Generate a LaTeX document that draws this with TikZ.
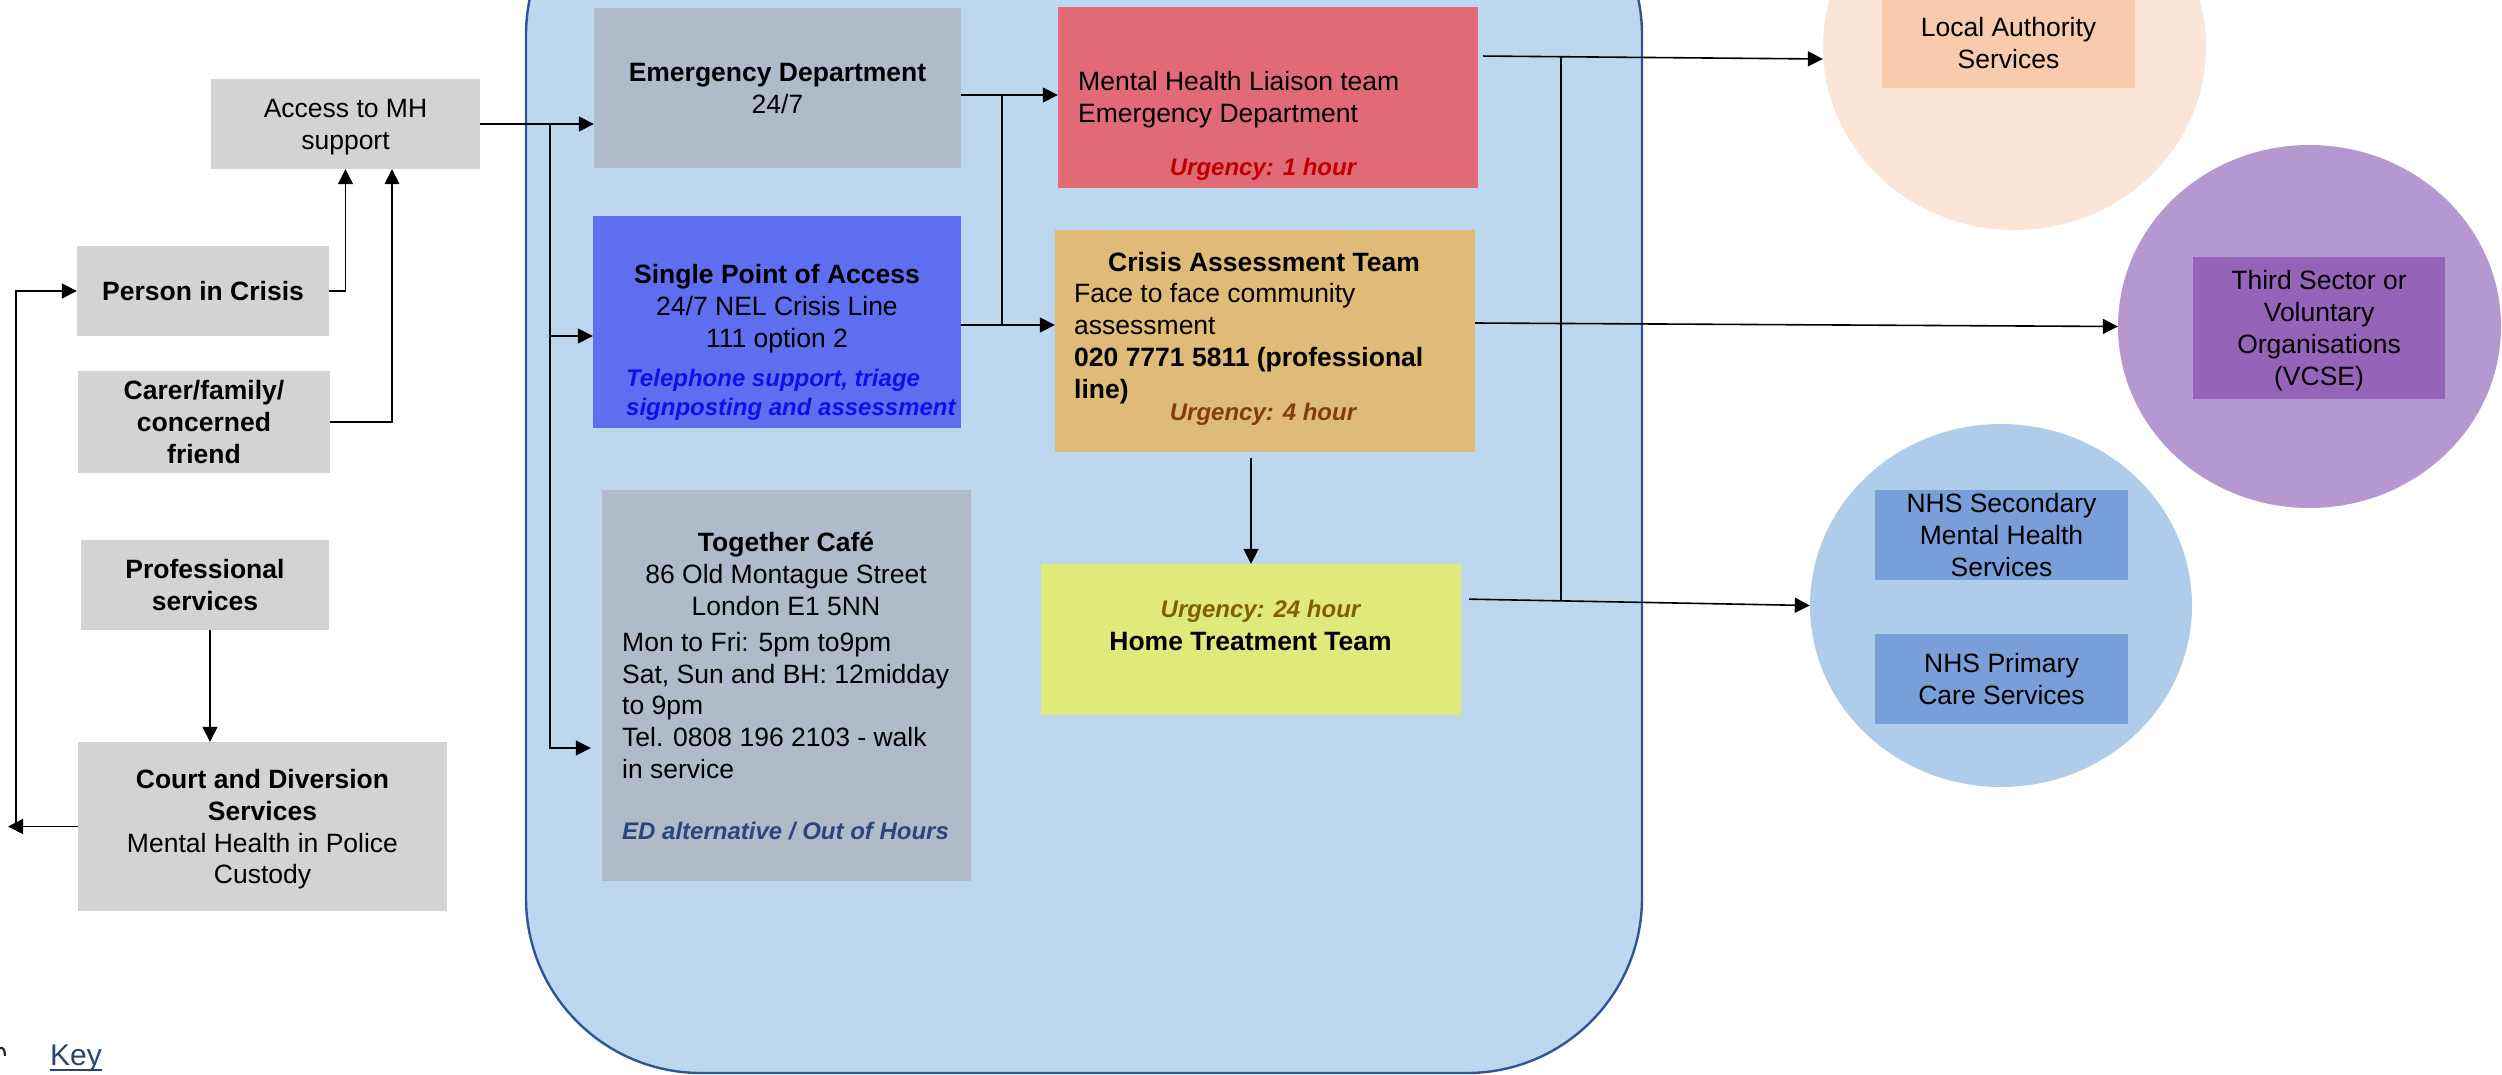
\documentclass[tikz,border=0pt]{standalone}
\usepackage{fontspec}
\setmainfont{Liberation Sans}
\usetikzlibrary{arrows.meta,shapes.geometric,calc}
\definecolor{contfill}{HTML}{BDD7EE}
\definecolor{contline}{HTML}{2F5597}
\definecolor{lgray}{HTML}{D3D3D3}
\definecolor{edgray}{HTML}{AFBACB}
\definecolor{spafill}{HTML}{5F6DF0}
\definecolor{spatext}{HTML}{1010E6}
\definecolor{mhltfill}{HTML}{E06B77}
\definecolor{urgred}{HTML}{C00000}
\definecolor{catfill}{HTML}{DFBB78}
\definecolor{urgbrown}{HTML}{843C0C}
\definecolor{httfill}{HTML}{DFEA7A}
\definecolor{urgolive}{HTML}{7F6000}
\definecolor{navytext}{HTML}{2A477A}
\definecolor{keyblue}{HTML}{2B4470}
\definecolor{lacirc}{HTML}{FBE5D6}
\definecolor{labox}{HTML}{F8CBAD}
\definecolor{vcsecirc}{HTML}{B598CF}
\definecolor{vcsebox}{HTML}{9563B7}
\definecolor{nhscirc}{HTML}{AFCDEA}
\definecolor{nhsbox}{HTML}{789FD8}
\newcommand\mainsz{\fontsize{26.5}{31.8}\selectfont}
\newcommand\smsz{\fontsize{24}{28.8}\selectfont}
\begin{document}
\begin{tikzpicture}[x=1pt,y=-1pt,
  conn/.style={line width=1.6pt, draw=black},
  arr/.style={conn, -{Triangle[length=15pt,width=15pt]}},
  box/.style 2 args={rectangle, inner sep=0pt, minimum width=#1pt, minimum height=#2pt, align=center, font=\mainsz, text depth=0pt},
  oval/.style 2 args={ellipse, inner sep=0pt, minimum width=#1pt, minimum height=#2pt},
  urg/.style={font=\smsz\bfseries\itshape, inner sep=0pt},
  txt/.style={font=\mainsz, inner sep=0pt}]
\useasboundingbox (0,0) rectangle (2502,1074);
\begin{scope}
\clip (0,0) rectangle (2502,1074);
% container
\draw[fill=contfill, draw=contline, line width=2.4pt, rounded corners=175pt] (526,-140) rectangle (1642,1073);
% outer ovals
\node[oval={383}{366}, fill=lacirc] (laC) at (2014.5,47) {};
\node[oval={383}{363}, fill=vcsecirc] (vcseC) at (2309.5,326.5) {};
\node[oval={382}{363}, fill=nhscirc] (nhsC) at (2001,605.5) {};
% boxes in ovals
\node[box={253}{90}, fill=labox] (la) at (2008.5,43) {Local Authority\\Services};
\node[box={252}{142}, fill=vcsebox] (vcse) at (2319,328) {Third Sector or\\Voluntary\\Organisations\\(VCSE)};
\node[box={253}{90}, fill=nhsbox] (nhs2) at (2001.5,535) {NHS Secondary\\Mental Health\\Services};
\node[box={253}{90}, fill=nhsbox] (nhs1) at (2001.5,679) {NHS Primary\\Care Services};
% left boxes
\node[box={269}{90}, fill=lgray] (acc) at (345.5,124) {Access to MH\\support};
\node[box={252}{90}, fill=lgray] (pic) at (203,291) {\textbf{Person in Crisis}};
\node[box={252}{102}, fill=lgray] (carer) at (204,422) {\textbf{Carer/family/}\\\textbf{concerned}\\\textbf{friend}};
\node[box={248}{90}, fill=lgray] (prof) at (205,585) {\textbf{Professional}\\\textbf{services}};
\node[box={369}{169}, fill=lgray] (court) at (262.5,826.5) {\textbf{Court and Diversion}\\\textbf{Services}\\Mental Health in Police\\Custody};
% inner boxes
\node[box={367}{160}, fill=edgray] (ed) at (777.5,88) {\textbf{Emergency Department}\\24/7};
\node[box={368}{212}, fill=spafill] (spa) at (777,322) {};
\node[txt, align=center] (spaT) at (777,308.5) {\textbf{Single Point of Access}\\24/7 NEL Crisis Line\\111 option 2};
\node[urg, text=spatext, align=left, anchor=west] (spaI) at (626,394.5) {Telephone support, triage\\signposting and assessment};
\node[box={369}{391}, fill=edgray] (cafe) at (786.5,685.5) {};
\node[txt, align=center] (cafeH) at (786,574) {\textbf{Together Café}\\86 Old Montague Street\\London E1 5NN};
\node[txt, align=left, anchor=west] (cafeT) at (622,705.5) {Mon to Fri: 5pm to9pm\\Sat, Sun and BH: 12midday\\to 9pm\\Tel. 0808 196 2103 - walk\\in service};
\node[urg, text=navytext, anchor=west] (cafeI) at (622,831.5) {ED alternative / Out of Hours};
\node[box={420}{181}, fill=mhltfill] (mhlt) at (1268,97.5) {};
\node[txt, align=left, anchor=west] (mhltT) at (1078,99.5) {Mental Health Liaison team\\Emergency Department};
\node[urg, text=urgred] (mhltU) at (1263,169) {Urgency: 1 hour};
\node[box={420}{222}, fill=catfill] (cat) at (1265,341) {};
\node[txt, font=\mainsz\bfseries] (catH) at (1264,262.5) {Crisis Assessment Team};
\node[txt, align=left, anchor=west] (catT) at (1074,343.5) {Face to face community\\assessment\\\textbf{020 7771 5811 (professional}\\\textbf{line)}};
\node[urg, text=urgbrown] (catU) at (1263,414) {Urgency: 4 hour};
\node[box={420}{151}, fill=httfill] (htt) at (1251,639.5) {};
\node[urg, text=urgolive] (httU) at (1260.5,611) {Urgency: 24 hour};
\node[txt, font=\mainsz\bfseries] (httT) at (1250.5,642) {Home Treatment Team};
% key
\node[inner sep=0pt, font=\fontsize{30}{36}\selectfont, text=keyblue, anchor=base west] (key) at (50,1065) {Key};
\draw[keyblue, line width=1.8pt] ([yshift=-5pt]key.base west) -- ([yshift=-5pt]key.base east);
\draw[line width=2.2pt, black!85] (0,1048) .. controls (3,1047) and (5,1050) .. (5,1056);
% junction coordinates
\coordinate (jA) at (550,124);
\coordinate (jB) at (1002,95);
\coordinate (jC) at (1002,325);
\coordinate (jD) at (1561,56);
\coordinate (jE) at (1561,600);
\coordinate (lt) at (8,826.5);
\coordinate (lc) at (16,826.5);
% connectors left
\draw[arr] (pic.east) -| (acc.south);
\draw[arr] (carer.east) -| ([xshift=46.5pt]acc.south);
\draw[arr] (court.west) -- (lt);
\draw[arr] (lc) |- (pic.west);
\draw[arr] ([xshift=5pt]prof.south) -- ([xshift=5pt]prof.south |- court.north);
\draw[arr] (acc.east) -- (acc.east -| ed.west);
\draw[arr] (jA) |- ([yshift=-14pt]spa.west);
\draw[arr, shorten >=11pt] (jA) |- ([yshift=-62.5pt]cafe.west);
% connectors middle
\draw[arr] ([yshift=-7pt]ed.east) -- ([yshift=-7pt]ed.east -| mhlt.west);
\draw[conn] (jB) -- (jC);
\draw[arr] ([yshift=-3pt]spa.east) -- ([yshift=-3pt]spa.east -| cat.west);
\draw[arr, shorten <=6pt] (htt.north |- cat.south) -- (htt.north);
% connectors right
\draw[arr, shorten <=5pt] ([yshift=41.5pt]mhlt.east) -- ([yshift=-12pt]laC.west);
\draw[arr] ([yshift=18pt]cat.east) -- (vcseC.west);
\draw[arr, shorten <=8pt] ([yshift=40.5pt]htt.east) -- (nhsC.west);
\draw[conn] (jD) -- (jE);
\end{scope}
\end{tikzpicture}
\end{document}
